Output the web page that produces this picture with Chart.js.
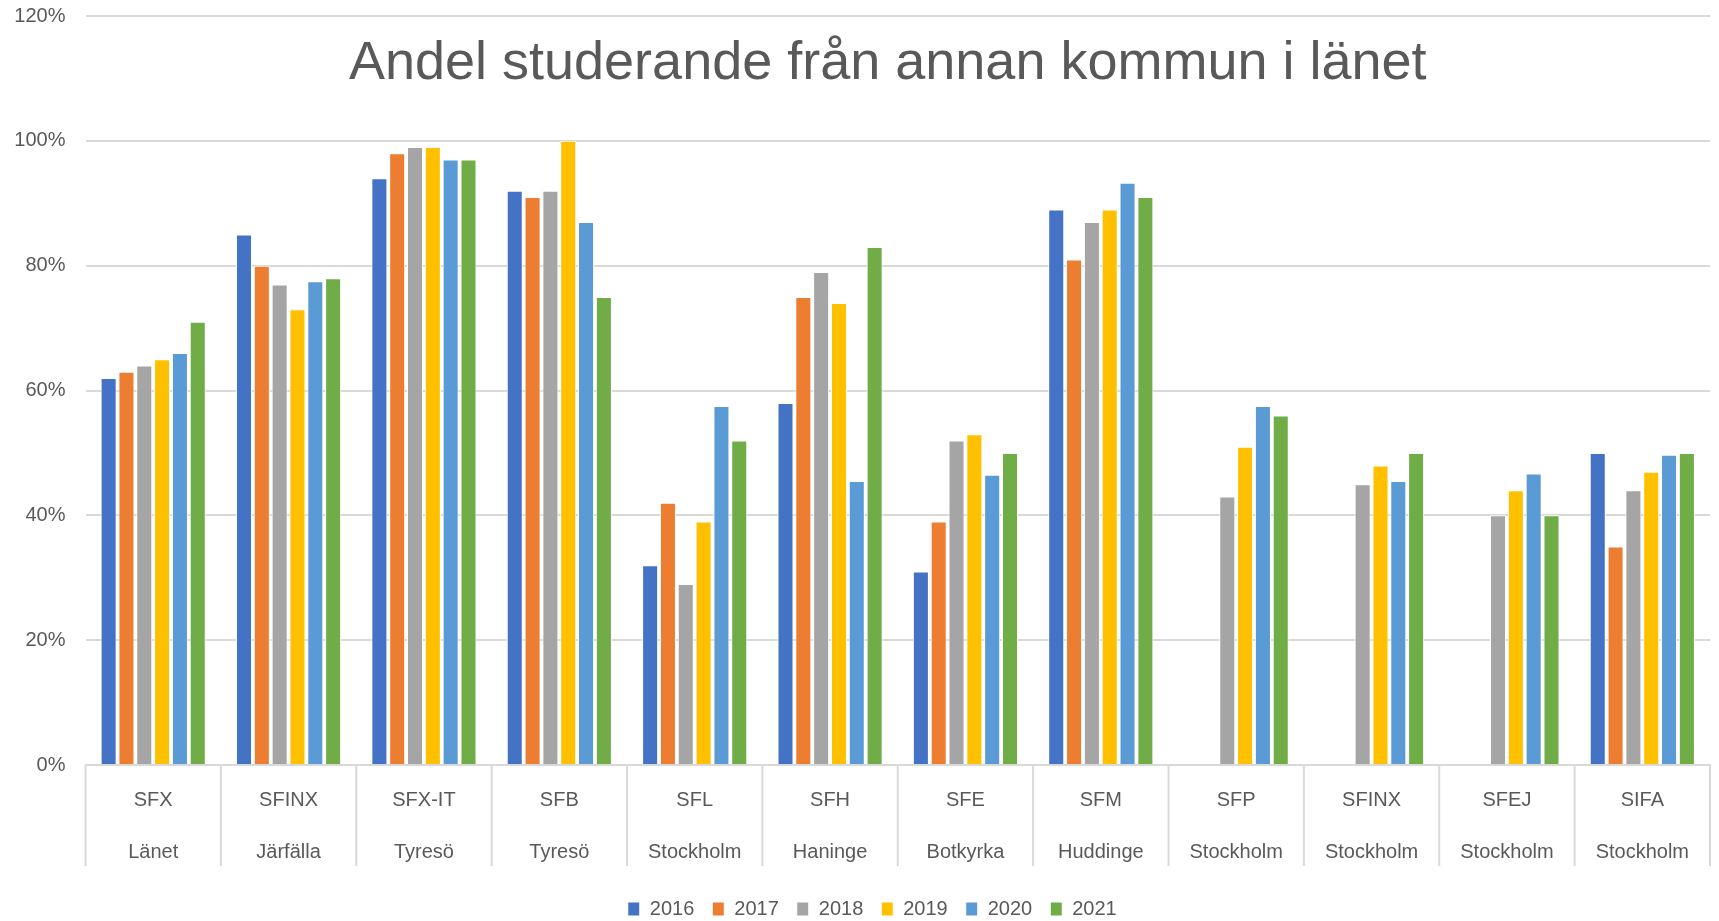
<!DOCTYPE html>
<html>
<head>
<meta charset="utf-8">
<script src="https://cdn.jsdelivr.net/npm/chart.js@4.4.1/dist/chart.umd.min.js"></script>
<style>
  html, body { margin: 0; padding: 0; background: #ffffff; }
  #wrap { position: relative; width: 1719px; height: 921px; }
</style>
</head>
<body>
<div id="wrap"><canvas id="c"></canvas></div>
<script>
const titleText = 'Andel studerande från annan kommun i länet';
const codes = ['SFX', 'SFINX', 'SFX-IT', 'SFB', 'SFL', 'SFH', 'SFE', 'SFM', 'SFP', 'SFINX', 'SFEJ', 'SIFA'];
const places = ['Länet', 'Järfälla', 'Tyresö', 'Tyresö', 'Stockholm', 'Haninge', 'Botkyrka', 'Huddinge', 'Stockholm', 'Stockholm', 'Stockholm', 'Stockholm'];
const years = ['2016', '2017', '2018', '2019', '2020', '2021'];
const v2016 = [62, 85, 94, 92, 32, 58, 31, 89, null, null, null, 50];
const v2017 = [63, 80, 98, 91, 42, 75, 39, 81, null, null, null, 35];
const v2018 = [64, 77, 99, 92, 29, 79, 52, 87, 43, 45, 40, 44];
const v2019 = [65, 73, 99, 100, 39, 74, 53, 89, 51, 48, 44, 47];
const v2020 = [66, 77.5, 97, 87, 57.5, 45.5, 46.5, 93.3, 57.5, 45.5, 46.7, 49.7];
const v2021 = [71, 78, 97, 75, 52, 83, 50, 91, 56, 50, 40, 50];
const yTicks = [0, 20, 40, 60, 80, 100, 120];
const colors = ['#4472C4', '#ED7D31', '#A5A5A5', '#FFC000', '#5B9BD5', '#70AD47'];

const seriesValues = [v2016, v2017, v2018, v2019, v2020, v2021];
const labels = codes.map((c, i) => [c, places[i]]);

const FONT = "'Liberation Sans', Arial, sans-serif";
Chart.defaults.font.family = FONT;
Chart.defaults.color = '#595959';

const innerTitle = {
  id: 'innerTitle',
  afterDraw(chart) {
    const a = chart.chartArea;
    const ctx = chart.ctx;
    ctx.save();
    ctx.font = '54px ' + FONT;
    ctx.fillStyle = '#595959';
    ctx.textAlign = 'center';
    ctx.textBaseline = 'alphabetic';
    ctx.fillText(titleText, (a.left + a.right) / 2 - 10, a.top + 62.5);
    ctx.restore();
  }
};

// category separators below the axis, placed by the x scale
const separators = {
  id: 'separators',
  afterLayout(chart) {
    chart.legend.left += 10;
    chart.legend.right += 10;
  },
  afterDraw(chart) {
    const xs = chart.scales.x;
    const a = chart.chartArea;
    const n = chart.data.labels.length;
    const half = xs.width / n / 2;
    const ctx = chart.ctx;
    ctx.save();
    ctx.strokeStyle = '#d9d9d9';
    ctx.lineWidth = 2;
    for (let i = 0; i <= n; i++) {
      const px = i < n ? xs.getPixelForValue(i) - half : xs.getPixelForValue(n - 1) + half;
      ctx.beginPath();
      ctx.moveTo(px, a.bottom);
      ctx.lineTo(px, a.bottom + 101);
      ctx.stroke();
    }
    ctx.restore();
  }
};

const chart = new Chart(document.getElementById('c'), {
  type: 'bar',
  data: {
    labels: labels,
    datasets: years.map((y, i) => ({
      label: y,
      data: seriesValues[i],
      backgroundColor: colors[i],
      borderColor: '#ffffff',
      borderWidth: 1,
      categoryPercentage: 0.79,
      barPercentage: 0.9
    }))
  },
  options: {
    responsive: true,
    maintainAspectRatio: false,
    animation: false,
    layout: { padding: { top: 16, left: 14.5, right: 9, bottom: -8 } },
    plugins: {
      title: { display: false },
      tooltip: { enabled: false },
      legend: {
        position: 'bottom',
        labels: {
          font: { size: 20 },
          color: '#595959',
          boxWidth: 12,
          boxHeight: 14,
          padding: 18
        }
      }
    },
    scales: {
      x: {
        afterFit(scale) { scale.height = 116; },
        grid: { display: false, drawTicks: false },
        border: { display: true, color: '#d9d9d9', width: 2 },
        ticks: {
          font: { size: 20, lineHeight: 2.6 },
          color: '#595959',
          padding: 9,
          maxRotation: 0,
          autoSkip: false
        }
      },
      y: {
        min: 0,
        max: 120,
        afterFit(scale) { scale.width = 71; },
        afterBuildTicks(scale) { scale.ticks = yTicks.map(v => ({ value: v })); },
        grid: { color: '#d9d9d9', lineWidth: 2, drawTicks: true, tickLength: 20, tickColor: 'rgba(0,0,0,0)' },
        border: { display: false },
        ticks: {
          font: { size: 20 },
          color: '#595959',
          padding: 0,
          callback: v => v + '%'
        }
      }
    }
  },
  plugins: [innerTitle, separators]
});
</script>
</body>
</html>
